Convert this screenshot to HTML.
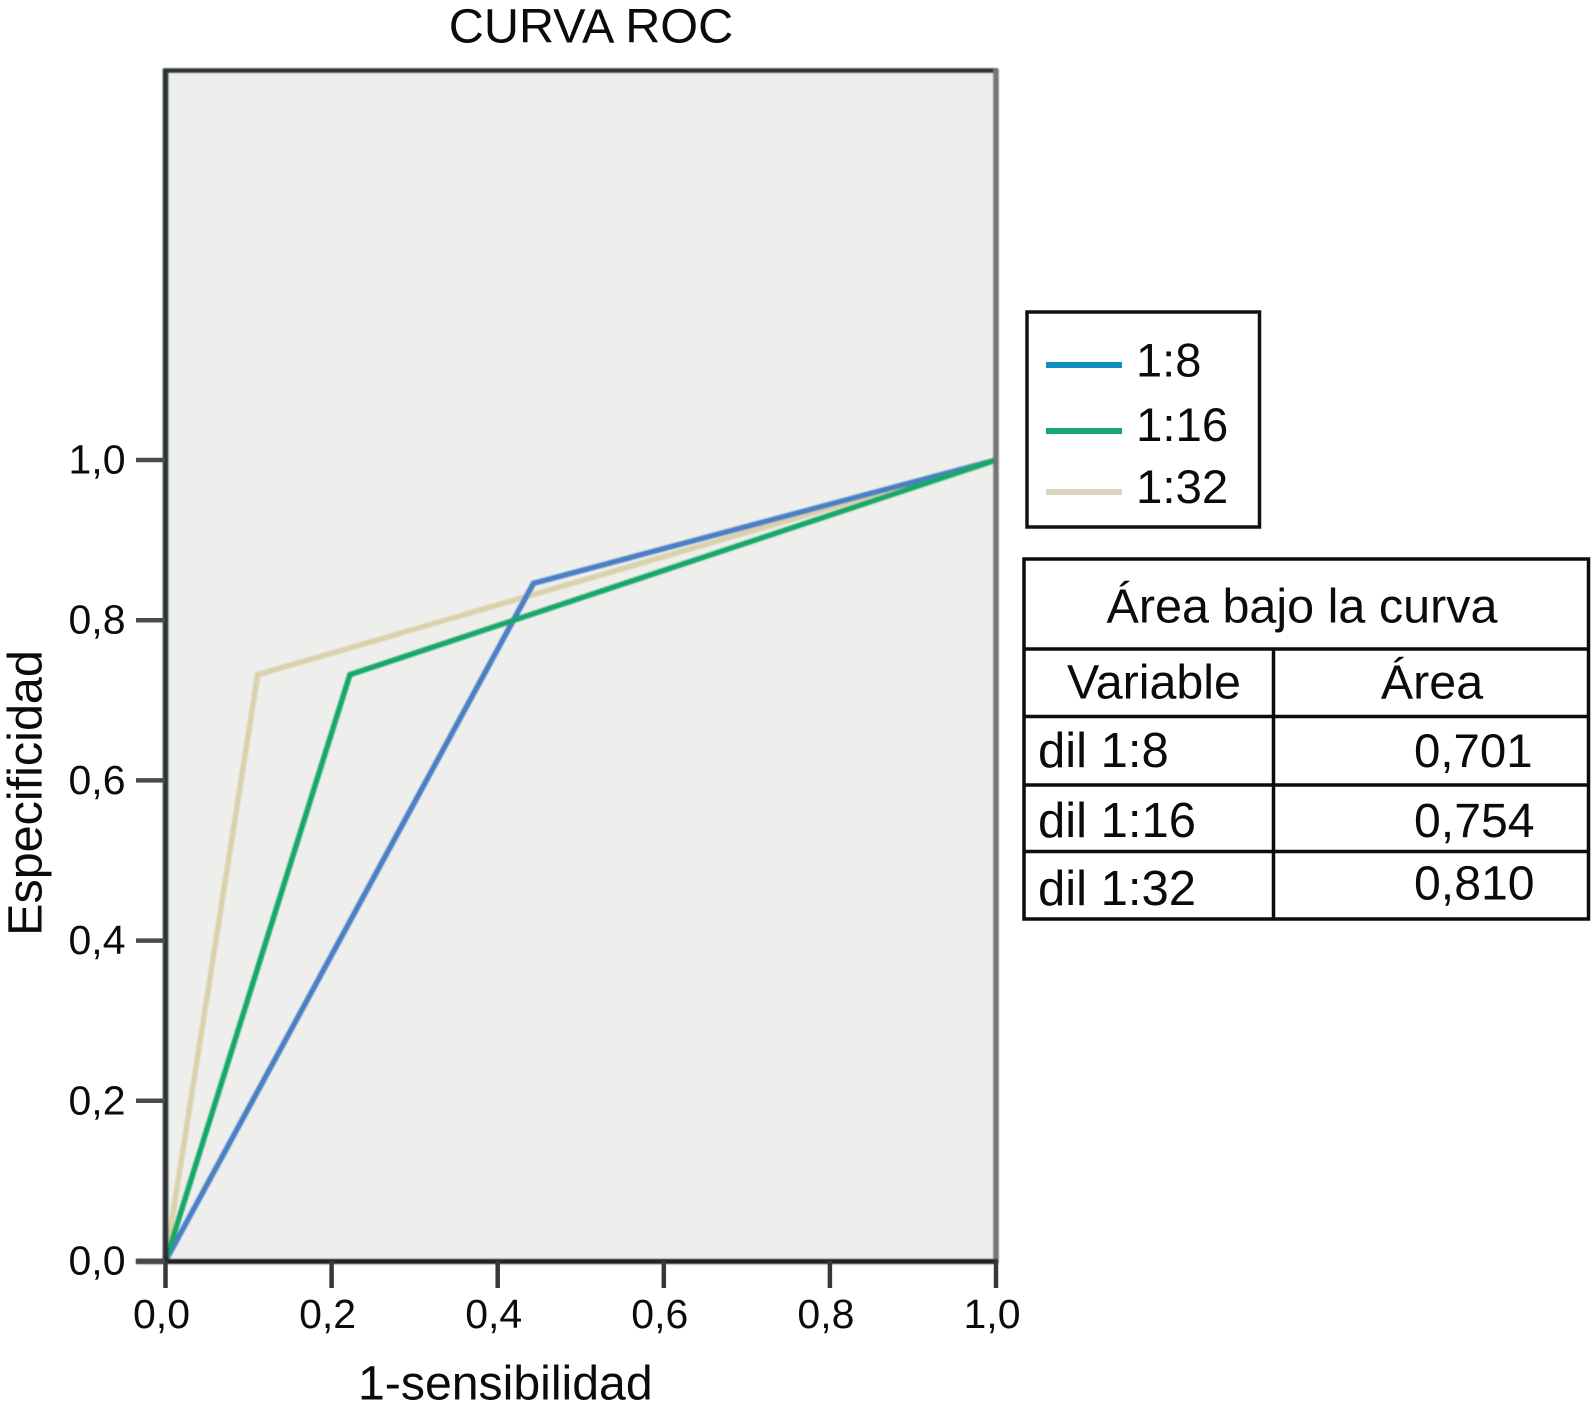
<!DOCTYPE html>
<html lang="es">
<head>
<meta charset="utf-8">
<title>Curva ROC</title>
<style>
html,body{margin:0;padding:0;background:#fff;}
svg{display:block;}
text{font-family:"Liberation Sans",sans-serif;fill:#0b0b0b;}
</style>
</head>
<body>
<svg id="chart" xmlns="http://www.w3.org/2000/svg" width="1591" height="1410" viewBox="0 0 1591 1410">
  <defs>
    <filter id="soft" x="-5%" y="-5%" width="110%" height="110%"><feGaussianBlur stdDeviation="0.8"/></filter>
  </defs>
  <rect x="0" y="0" width="1591" height="1410" fill="#ffffff"/>
  <text x="591" y="42.5" font-size="48.6" text-anchor="middle">CURVA ROC</text>

  <rect x="165" y="70" width="831" height="1191" fill="#eeeeed"/>
  <g id="marks" filter="url(#soft)"></g>
  <g id="axes" filter="url(#soft)">
    <line x1="163" y1="70.5" x2="998" y2="70.5" stroke="#2b3034" stroke-width="4.5"/>
    <line x1="996" y1="69" x2="996" y2="1262" stroke="#6f7578" stroke-width="5.5"/>
    <line x1="165.5" y1="69" x2="165.5" y2="1262" stroke="#2b3034" stroke-width="5.5"/>
    <line x1="136" y1="1261.5" x2="998" y2="1261.5" stroke="#1d2124" stroke-width="5"/>
  </g>
  <g id="ticks"></g>

  <text transform="translate(41.5 793) rotate(-90)" font-size="48.5" text-anchor="middle">Especificidad</text>
  <text x="358" y="1399.5" font-size="48.2">1-sensibilidad</text>

  <g>
    <rect x="1027" y="312" width="232.5" height="215" fill="#fff" stroke="#111" stroke-width="3.5"/>
    <line x1="1046" y1="365" x2="1122" y2="365" stroke="#0f8fbe" stroke-width="6"/>
    <text x="1136" y="376.5" font-size="47">1:8</text>
    <line x1="1046" y1="431" x2="1122" y2="431" stroke="#16a86e" stroke-width="6"/>
    <text x="1136" y="441" font-size="47.4">1:16</text>
    <line x1="1046" y1="492" x2="1122" y2="492" stroke="#d9d5c0" stroke-width="6"/>
    <text x="1136" y="503" font-size="47.4">1:32</text>
  </g>

  <g>
    <rect x="1024" y="559" width="564.5" height="360" fill="#fff" stroke="#0c0c0c" stroke-width="3.5"/>
    <line x1="1024" y1="649" x2="1588" y2="649" stroke="#0c0c0c" stroke-width="3.5"/>
    <line x1="1024" y1="716.5" x2="1588" y2="716.5" stroke="#0c0c0c" stroke-width="3.5"/>
    <line x1="1024" y1="785" x2="1588" y2="785" stroke="#0c0c0c" stroke-width="3.5"/>
    <line x1="1024" y1="851.5" x2="1588" y2="851.5" stroke="#0c0c0c" stroke-width="3.5"/>
    <line x1="1273.5" y1="649" x2="1273.5" y2="918" stroke="#0c0c0c" stroke-width="3.5"/>
    <text x="1302" y="622.5" font-size="48.5" text-anchor="middle">Área bajo la curva</text>
    <text x="1154" y="698.5" font-size="48.4" text-anchor="middle">Variable</text>
    <text x="1432" y="698.5" font-size="48.4" text-anchor="middle">Área</text>
    <text x="1038" y="767" font-size="49">dil 1:8</text>
    <text x="1414" y="767" font-size="47.4">0,701</text>
    <text x="1038" y="837" font-size="49">dil 1:16</text>
    <text x="1414" y="837" font-size="48.2">0,754</text>
    <text x="1038" y="905" font-size="49">dil 1:32</text>
    <text x="1414" y="899.5" font-size="48.2">0,810</text>
  </g>
</svg>
<script>
var xTicks = [0, 0.2, 0.4, 0.6, 0.8, 1];
var xTickLabels = ["0,0", "0,2", "0,4", "0,6", "0,8", "1,0"];
var yTicks = [0, 0.2, 0.4, 0.6, 0.8, 1];
var yTickLabels = ["0,0", "0,2", "0,4", "0,6", "0,8", "1,0"];

var fprValues1x8 = [0, 0.443, 1];
var sensValues1x8 = [0, 0.846, 1];
var fprValues1x16 = [0, 0.222, 1];
var sensValues1x16 = [0, 0.732, 1];
var fprValues1x32 = [0, 0.111, 1];
var sensValues1x32 = [0, 0.732, 1];

var NS = 'http://www.w3.org/2000/svg';
function xScale(v) { return 165.5 + v * 830.5; }
function yScale(v) { return 1261 - v * 801; }

var marks = document.getElementById('marks');
var ticks = document.getElementById('ticks');

function drawSeries(xs, ys, color, name) {
  var pts = [];
  for (var i = 0; i < xs.length; i++) {
    pts.push(xScale(xs[i]).toFixed(1) + ',' + yScale(ys[i]).toFixed(1));
  }
  var el = document.createElementNS(NS, 'polyline');
  el.setAttribute('points', pts.join(' '));
  el.setAttribute('fill', 'none');
  el.setAttribute('stroke', color);
  el.setAttribute('stroke-width', '5.5');
  el.setAttribute('stroke-linejoin', 'miter');
  
  
  marks.appendChild(el);
}
drawSeries(fprValues1x32, sensValues1x32, '#d9d2ac', 'series-line-1-32');
drawSeries(fprValues1x8, sensValues1x8, '#4a7fc4', 'series-line-1-8');
drawSeries(fprValues1x16, sensValues1x16, '#12a868', 'series-line-1-16');

xTicks.forEach(function (v, i) {
  var x = xScale(v);
  var t = document.createElementNS(NS, 'line');
  t.setAttribute('x1', x);
  t.setAttribute('x2', x);
  t.setAttribute('y1', 1261);
  t.setAttribute('y2', 1288);
  t.setAttribute('stroke', '#33393d');
  t.setAttribute('stroke-width', '4.5');
  
  
  ticks.appendChild(t);
  var l = document.createElementNS(NS, 'text');
  l.setAttribute('x', x - 4);
  l.setAttribute('y', 1328);
  l.setAttribute('font-size', '41');
  l.setAttribute('text-anchor', 'middle');
  
  
  l.textContent = xTickLabels[i];
  ticks.appendChild(l);
});

yTicks.forEach(function (v, i) {
  var y = yScale(v);
  var t = document.createElementNS(NS, 'line');
  t.setAttribute('x1', 136);
  t.setAttribute('x2', 165);
  t.setAttribute('y1', y);
  t.setAttribute('y2', y);
  t.setAttribute('stroke', '#454b4f');
  t.setAttribute('stroke-width', '4.5');
  
  
  ticks.appendChild(t);
  var l = document.createElementNS(NS, 'text');
  l.setAttribute('x', 125.5);
  l.setAttribute('y', y + 13.5);
  l.setAttribute('font-size', '41');
  l.setAttribute('text-anchor', 'end');
  
  
  l.textContent = yTickLabels[i];
  ticks.appendChild(l);
});
</script>
</body>
</html>
